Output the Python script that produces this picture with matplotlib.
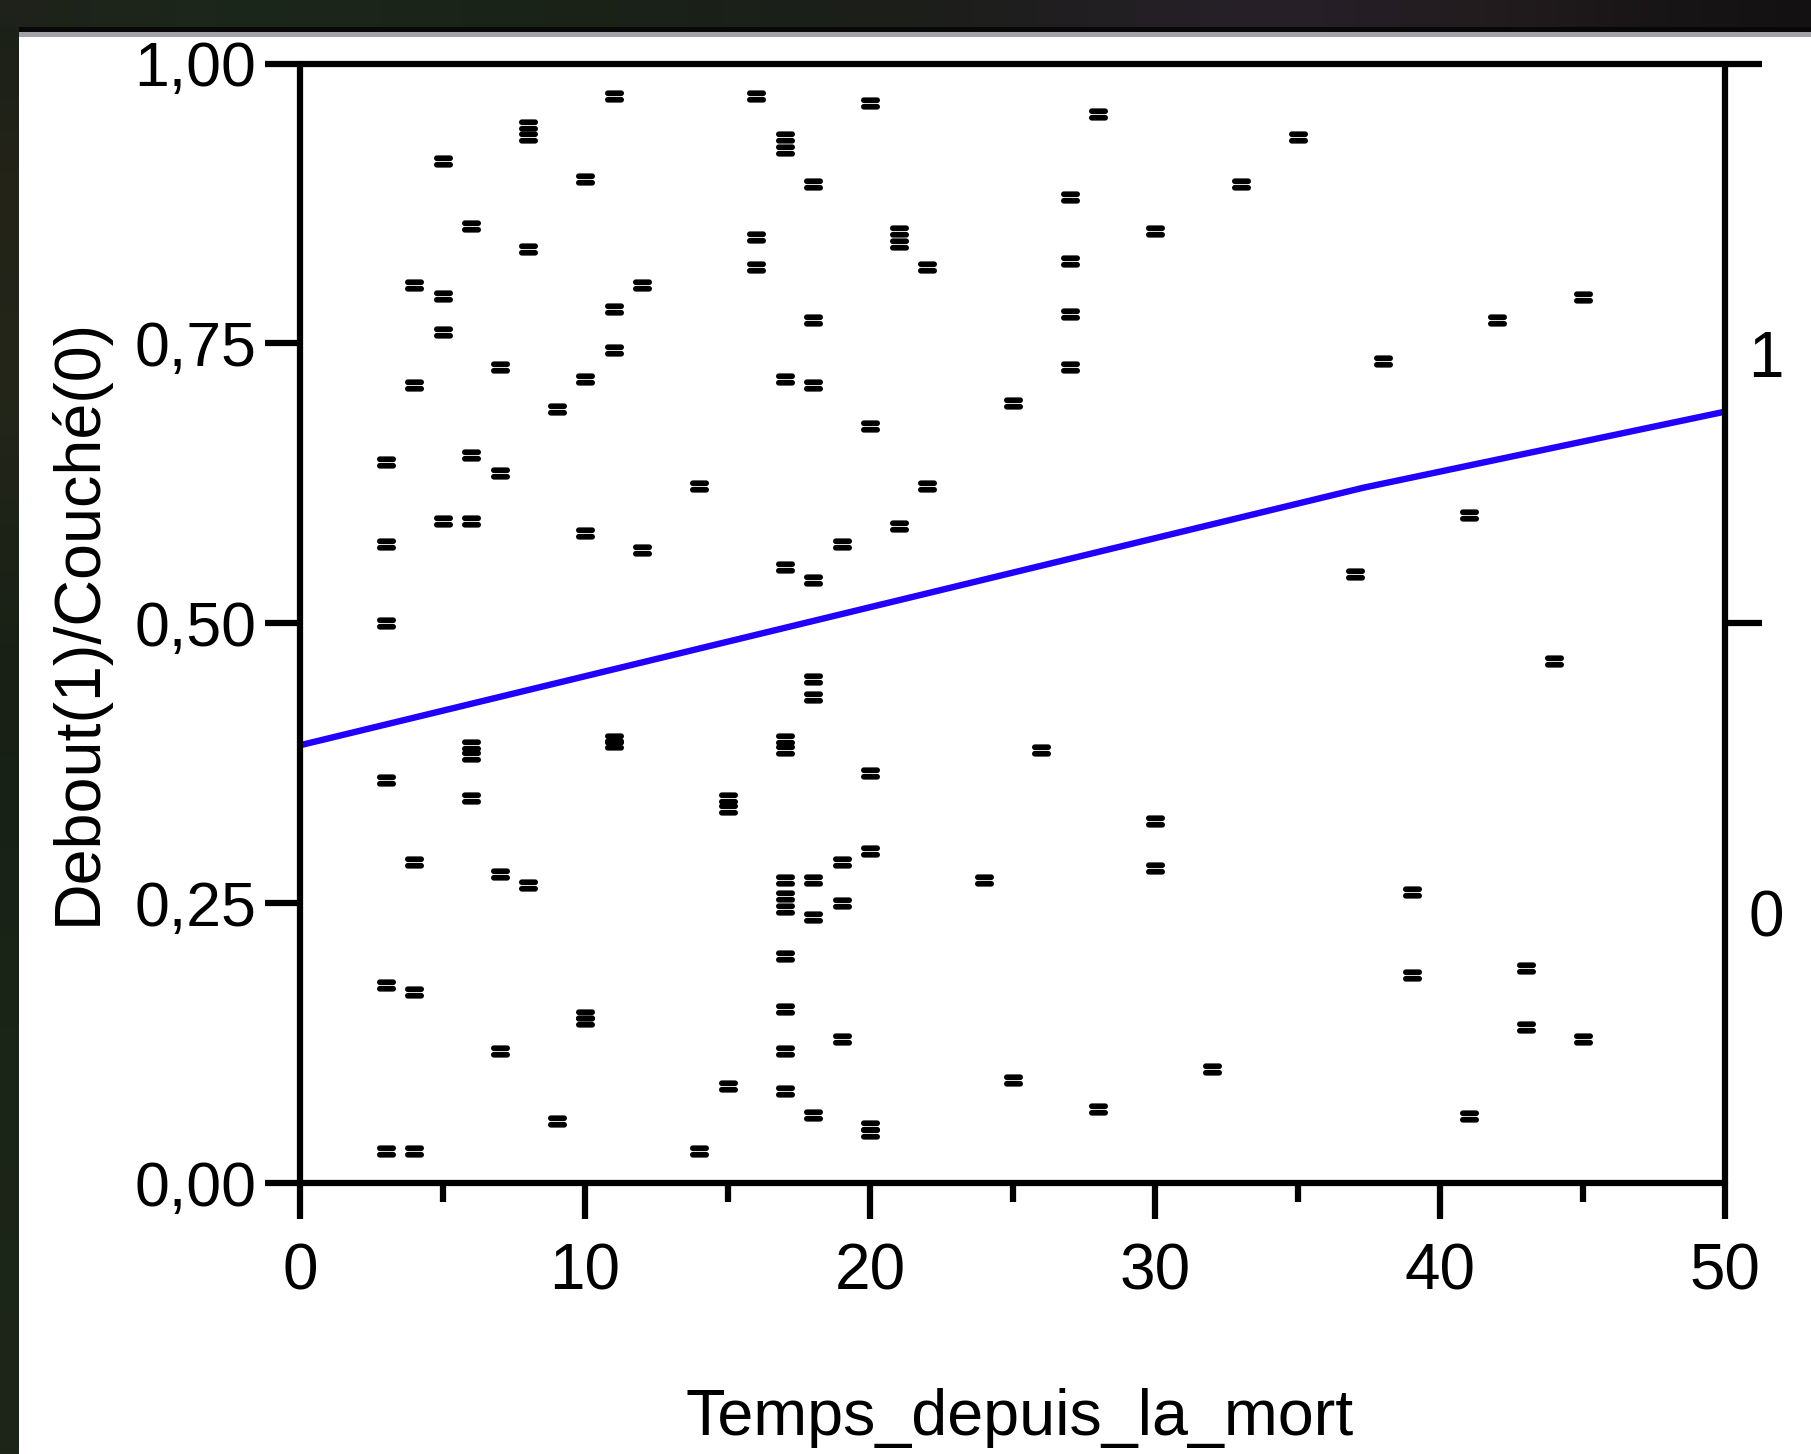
import numpy as np
import matplotlib
matplotlib.use("Agg")
import matplotlib.pyplot as plt
from matplotlib.path import Path
from matplotlib.markers import MarkerStyle
from matplotlib.patches import Rectangle
import matplotlib.transforms as mtransforms

plt.rcParams['font.family'] = ['Liberation Sans', 'DejaVu Sans']

# ---------------- data ----------------
temps = (
    [3] * 6 + [4] * 5 + [5] * 4 + [6] * 6 + [7] * 4 + [8] * 4 + [9] * 2 +
    [10] * 5 + [11] * 5 + [12] * 2 + [14] * 2 + [15] * 3 + [16] * 3 +
    [17] * 13 + [18] * 9 + [19] * 4 + [20] * 6 + [21] * 3 + [22] * 2 +
    [24] * 1 + [25] * 2 + [26] * 1 + [27] * 4 + [28] * 2 + [30] * 3 +
    [32] * 1 + [33] * 1 + [35] * 1 + [37] * 1 + [38] * 1 + [39] * 2 +
    [41] * 2 + [42] * 1 + [43] * 2 + [44] * 1 + [45] * 2
)
position = [
    0.644, 0.571, 0.500, 0.360, 0.177, 0.029,          # 3
    0.8025, 0.7125, 0.287, 0.171, 0.029,               # 4
    0.913, 0.792, 0.760, 0.591,                        # 5
    0.855, 0.650, 0.591, 0.391, 0.381, 0.344,          # 6
    0.729, 0.634, 0.276, 0.118,                        # 7
    0.945, 0.934, 0.834, 0.266,                        # 8
    0.691, 0.055,                                      # 9
    0.897, 0.718, 0.581, 0.150, 0.145,                 # 10
    0.971, 0.781, 0.744, 0.397, 0.392,                 # 11
    0.8025, 0.565,                                     # 12
    0.623, 0.029,                                      # 14
    0.344, 0.334, 0.087,                               # 15
    0.971, 0.845, 0.818,                               # 16
    0.934, 0.923, 0.718, 0.550, 0.397, 0.387, 0.271,
    0.256, 0.245, 0.203, 0.155, 0.118, 0.082,          # 17
    0.892, 0.771, 0.7125, 0.539, 0.450, 0.434, 0.271,
    0.238, 0.061,                                      # 18
    0.571, 0.287, 0.250, 0.129,                        # 19
    0.965, 0.676, 0.366, 0.297, 0.051, 0.045,          # 20
    0.850, 0.839, 0.587,                               # 21
    0.818, 0.623,                                      # 22
    0.271,                                             # 24
    0.697, 0.092,                                      # 25
    0.387,                                             # 26
    0.881, 0.824, 0.776, 0.729,                        # 27
    0.955, 0.066,                                      # 28
    0.850, 0.323, 0.281,                               # 30
    0.102,                                             # 32
    0.892,                                             # 33
    0.934,                                             # 35
    0.544,                                             # 37
    0.734,                                             # 38
    0.260, 0.186,                                      # 39
    0.597, 0.060,                                      # 41
    0.771,                                             # 42
    0.192, 0.139,                                      # 43
    0.466,                                             # 44
    0.791, 0.129,                                      # 45
]

curve_x = [0, 37.3, 50]
curve_y = [0.391, 0.621, 0.689]

x_ticks = [0, 10, 20, 30, 40, 50]
x_tick_labels = ['0', '10', '20', '30', '40', '50']
x_minor_ticks = [5, 15, 25, 35, 45]
y_ticks = [0.0, 0.25, 0.5, 0.75, 1.0]
y_tick_labels = ['0,00', '0,25', '0,50', '0,75', '1,00']
right_ticks = [0.5, 1.0]
level_labels = ['0', '1']
level_pos = [0.2406, 0.7405]

x_label = 'Temps_depuis_la_mort'
y_label = 'Debout(1)/Couché(0)'

# ---------------- figure ----------------
W, H = 1811, 1454
fig = plt.figure(figsize=(W / 100, H / 100), dpi=100, facecolor='#1b1e18')

def hgrad(stops, n=400):
    pos = np.array([s[0] for s in stops])
    cols = np.array([matplotlib.colors.to_rgb(s[1]) for s in stops])
    t = np.linspace(0, 1, n)
    arr = np.stack([np.interp(t, pos, cols[:, k]) for k in range(3)], axis=-1)
    return arr

# top dark band
top_ax = fig.add_axes([0, 1 - 27 / H, 1, 27 / H], zorder=-10)
g = hgrad([(0, '#1f221a'), (0.12, '#1c271b'), (0.3, '#1a2318'), (0.5, '#1c1e1a'),
           (0.7, '#272029'), (0.82, '#221c1f'), (0.92, '#181516'), (1, '#141112')])
top_ax.imshow(g[None, :, :], aspect='auto', extent=[0, 1, 0, 1])
top_ax.axis('off')

# left dark strip
left_ax = fig.add_axes([0, 0, 19 / W, 1 - 27 / H], zorder=-10)
gv = hgrad([(0, '#1d2619'), (0.3, '#1a2417'), (0.55, '#182015'), (0.75, '#24261a'),
            (0.9, '#232318'), (1, '#1c2118')])
left_ax.imshow(gv[::-1, None, :], aspect='auto', extent=[0, 1, 0, 1])
left_ax.axis('off')

fig.add_artist(Rectangle((19 / W, 1 - 32 / H), 1, 5 / H, transform=fig.transFigure,
                         facecolor='#080808', edgecolor='none', zorder=-9))
fig.add_artist(Rectangle((19 / W, 1 - 37 / H), 1, 5 / H, transform=fig.transFigure,
                         facecolor='#a2a2a8', edgecolor='none', zorder=-9))
fig.add_artist(Rectangle((19 / W, 0), 1, 1 - 37 / H, transform=fig.transFigure,
                         facecolor='white', edgecolor='none', zorder=-9))

# main axes
LW = 4.5
ax = fig.add_axes([300 / W, 1 - 1183 / H, (1725 - 300) / W, (1183 - 63.5) / H], zorder=1)
ax.set_facecolor('white')
ax.set_xlim(0, 50)
ax.set_ylim(0, 1)
for s in ax.spines.values():
    s.set_linewidth(LW)
    s.set_color('black')
    s.set_capstyle('round')

ax.set_xticks(x_ticks)
ax.set_xticklabels(x_tick_labels)
ax.set_xticks(x_minor_ticks, minor=True)
ax.set_yticks(y_ticks)
ax.set_yticklabels(y_tick_labels)
ax.tick_params(axis='x', which='major', direction='out', length=26, width=LW,
               pad=17, labelsize=46, colors='black')
ax.tick_params(axis='x', which='minor', direction='out', length=13.5, width=LW)
ax.tick_params(axis='y', which='major', direction='out', length=25, width=LW,
               pad=6.5, labelsize=45, colors='black')
ax.tick_params(axis='y', which='minor', left=False)

# right ticks
ax2 = ax.twinx()
ax2.set_ylim(0, 1)
ax2.set_yticks(right_ticks)
ax2.set_yticklabels([])
ax2.tick_params(axis='y', direction='out', length=26.5, width=LW)
for s in ax2.spines.values():
    s.set_visible(False)

# fitted curve
ax.plot(curve_x, curve_y, color='#2200ff', lw=4.6, solid_capstyle='butt', zorder=2)

# markers: two stacked filled rounded dashes
def stadium(cy, r, n=12):
    pts = []
    for a in np.linspace(-np.pi / 2, np.pi / 2, n):
        pts.append((1 - r + r * np.cos(a), cy + r * np.sin(a)))
    for a in np.linspace(np.pi / 2, 3 * np.pi / 2, n):
        pts.append((-1 + r + r * np.cos(a), cy + r * np.sin(a)))
    pts.append(pts[0])
    codes = [Path.MOVETO] + [Path.LINETO] * (len(pts) - 2) + [Path.CLOSEPOLY]
    return Path(pts, codes)

r_dash = 0.30
mk_path = Path.make_compound_path(stadium(0.345, r_dash), stadium(-0.345, r_dash))
mk = MarkerStyle(mk_path)
ax.plot(temps, position, linestyle='none', marker=mk, markersize=13.6,
        markeredgewidth=0, markerfacecolor='black', zorder=3)

# level labels on the right
fs = 46
trans = mtransforms.blended_transform_factory(ax.transAxes, ax.transData)
trans = mtransforms.offset_copy(trans, fig=fig, y=-0.716 * fs / 2, units='points')
for lab, v in zip(level_labels, level_pos):
    ax.text(1.0165, v, lab, transform=trans, ha='left', va='baseline', fontsize=fs,
            clip_on=False)

fig.text(1020 / W, 1 - 1435 / H, x_label, ha='center', va='baseline', fontsize=46.5)
fig.text(48 / W, 1 - 621 / H, y_label, rotation=90, ha='left', va='center', fontsize=46.5)

fig.savefig('out.png', dpi=100, facecolor=fig.get_facecolor())
